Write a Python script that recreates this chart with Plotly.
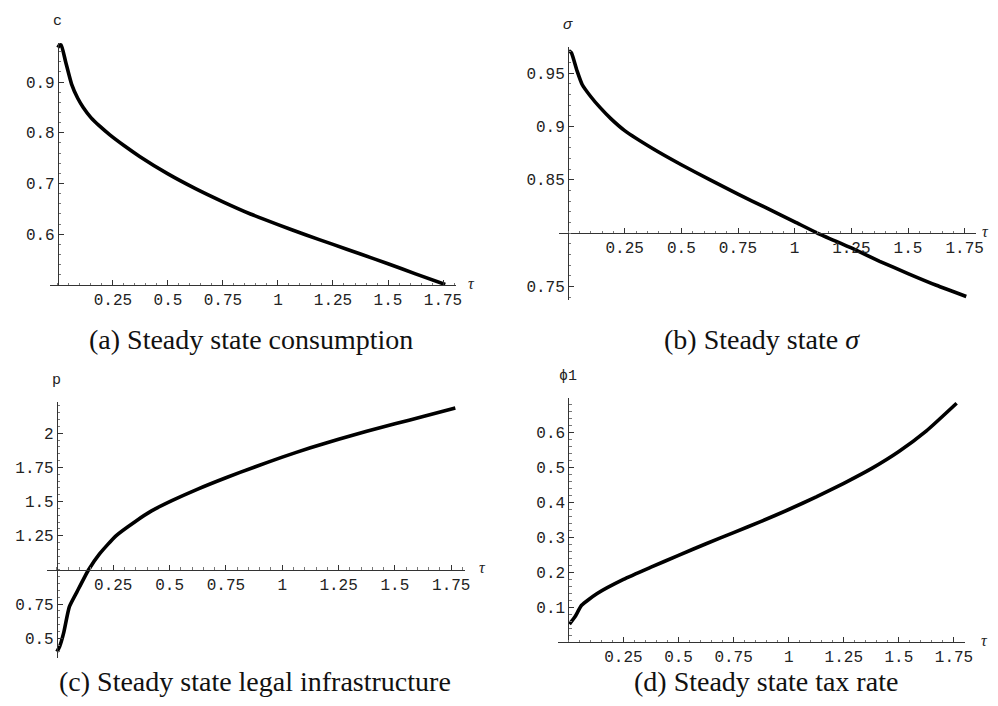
import plotly.graph_objects as go

# ---------------- data ----------------
tau_c = [0.0, 0.006, 0.015, 0.035, 0.062, 0.09, 0.115, 0.15, 0.19, 0.236, 0.3, 0.373, 0.5, 0.625, 0.75, 0.875, 1.0, 1.125, 1.25, 1.375, 1.5, 1.625, 1.76]
c_vals = [0.968, 0.972, 0.973, 0.94, 0.896, 0.868, 0.85, 0.83, 0.813, 0.796, 0.775, 0.753, 0.719, 0.69, 0.664, 0.64, 0.619, 0.599, 0.58, 0.561, 0.542, 0.522, 0.501]

tau_s = [0.004, 0.015, 0.04, 0.063, 0.1, 0.14, 0.19, 0.25, 0.375, 0.5, 0.625, 0.75, 0.875, 1.0, 1.1, 1.25, 1.375, 1.5, 1.625, 1.757]
sigma_vals = [0.971, 0.969, 0.952, 0.939, 0.928, 0.918, 0.907, 0.896, 0.879, 0.864, 0.85, 0.8365, 0.8235, 0.8105, 0.8, 0.786, 0.7735, 0.762, 0.751, 0.7405]

tau_p = [0.0, 0.012, 0.03, 0.055, 0.089, 0.14, 0.19, 0.262, 0.35, 0.42, 0.51, 0.625, 0.75, 0.875, 1.0, 1.125, 1.25, 1.375, 1.5, 1.625, 1.768]
p_vals = [0.402, 0.44, 0.54, 0.73, 0.84, 1.0, 1.119, 1.25, 1.357, 1.432, 1.507, 1.592, 1.675, 1.752, 1.826, 1.894, 1.956, 2.015, 2.07, 2.122, 2.185]

tau_phi = [0.005, 0.03, 0.06, 0.129, 0.25, 0.375, 0.5, 0.625, 0.75, 0.875, 1.0, 1.125, 1.25, 1.375, 1.5, 1.625, 1.762]
phi_vals = [0.051, 0.072, 0.105, 0.138, 0.179, 0.214, 0.248, 0.281, 0.313, 0.345, 0.379, 0.415, 0.454, 0.496, 0.545, 0.604, 0.683]

x_ticks = [0.25, 0.5, 0.75, 1, 1.25, 1.5, 1.75]
x_ticktext = ["0.25", "0.5", "0.75", "1", "1.25", "1.5", "1.75"]
c_ticks = [0.6, 0.7, 0.8, 0.9]
c_ticktext = ["0.6", "0.7", "0.8", "0.9"]
s_ticks = [0.75, 0.85, 0.9, 0.95]
s_ticktext = ["0.75", "0.85", "0.9", "0.95"]
p_ticks = [0.5, 0.75, 1.25, 1.5, 1.75, 2]
p_ticktext = ["0.5", "0.75", "1.25", "1.5", "1.75", "2"]
phi_ticks = [0.1, 0.2, 0.3, 0.4, 0.5, 0.6]
phi_ticktext = ["0.1", "0.2", "0.3", "0.4", "0.5", "0.6"]

y_labels = ["c", "<i>σ</i>", "p", "ϕ1"]
captions = ["(a) Steady state consumption", "(b) Steady state <i>σ</i>",
            "(c) Steady state legal infrastructure", "(d) Steady state tax rate"]

# ---------------- layout ----------------
# the page body has an 8px margin; the figure is sized to fit the 998x706 window
OX, OY = 8, 8
W, H = 982, 690


def fx(px):
    return (px - OX) / W


def fy(py):
    return 1 - (py - OY) / H


panels = [
    dict(x=tau_c, y=c_vals, box=(50, 456, 43, 285), xr=[-0.036, 1.809], yr=[0.5, 0.977], cross=0.5,
         yt=c_ticks, ytt=c_ticktext, ydminor=0.02, cap=(251, 356), tshift=10),
    dict(x=tau_s, y=sigma_vals, box=(559, 976, 47, 300), xr=[-0.0397, 1.80], yr=[0.7372, 0.9744], cross=0.8,
         yt=s_ticks, ytt=s_ticktext, ydminor=0.01, cap=(762, 356), tshift=4),
    dict(x=tau_p, y=p_vals, box=(47, 465, 402, 658), xr=[-0.044, 1.811], yr=[0.356, 2.229], cross=1.0,
         yt=p_ticks, ytt=p_ticktext, ydminor=0.05, cap=(255, 698), tshift=12),
    dict(x=tau_phi, y=phi_vals, box=(558, 965, 398, 642), xr=[-0.047, 1.80], yr=[0.0, 0.698], cross=0.0,
         yt=phi_ticks, ytt=phi_ticktext, ydminor=0.02, cap=(766, 698), tshift=14),
]

fig = go.Figure()
layout = dict(width=W, height=H, margin=dict(l=0, r=0, t=0, b=0, autoexpand=False),
              paper_bgcolor="white", plot_bgcolor="white", showlegend=False)
annotations = []
tickfont = dict(family="Liberation Mono", size=16, color="#222")
axcol = "#333"

for i, p in enumerate(panels, start=1):
    sfx = "" if i == 1 else str(i)
    L, R, T, B = p["box"]
    xd = [fx(L), fx(R)]
    yd = [fy(B), fy(T)]
    xr, yr = p["xr"], p["yr"]
    xpos = yd[0] + (p["cross"] - yr[0]) / (yr[1] - yr[0]) * (yd[1] - yd[0])
    ypos = xd[0] + (0 - xr[0]) / (xr[1] - xr[0]) * (xd[1] - xd[0])
    fig.add_trace(go.Scatter(x=p["x"], y=p["y"], mode="lines",
                             line=dict(color="black", width=3.6, shape="spline", smoothing=0.5),
                             xaxis="x" + sfx, yaxis="y" + sfx, hoverinfo="skip"))
    layout["xaxis" + sfx] = dict(domain=xd, range=xr, anchor="free", position=xpos, automargin=False,
                                 showline=True, linecolor=axcol, linewidth=1, showgrid=False, zeroline=False,
                                 tickvals=x_ticks, ticktext=x_ticktext, ticks="inside", ticklen=5,
                                 tickcolor=axcol, tickwidth=1, tickfont=tickfont,
                                 minor=dict(ticks="inside", ticklen=2.5, dtick=0.05, tick0=0, tickcolor="#777",
                                            showgrid=False),
                                 fixedrange=True)
    layout["yaxis" + sfx] = dict(domain=yd, range=yr, anchor="free", position=ypos, automargin=False,
                                 showline=True, linecolor=axcol, linewidth=1, showgrid=False, zeroline=False,
                                 tickvals=p["yt"], ticktext=p["ytt"], ticks="inside", ticklen=5,
                                 tickcolor=axcol, tickwidth=1, tickfont=tickfont,
                                 minor=dict(ticks="inside", ticklen=2.5, dtick=p["ydminor"], tick0=0,
                                            tickcolor="#777", showgrid=False),
                                 fixedrange=True)
    # y-axis label at top of the vertical axis
    annotations.append(dict(x=0, y=yr[1], xref="x" + sfx, yref="y" + sfx, text=y_labels[i - 1],
                            showarrow=False, xanchor="center", yanchor="bottom", yshift=11,
                            font=dict(family="Liberation Mono", size=15, color="#222")))
    # tau label at right end of horizontal axis
    annotations.append(dict(x=xr[1], y=p["cross"], xref="x" + sfx, yref="y" + sfx, text="<i>τ</i>",
                            showarrow=False, xanchor="left", yanchor="middle", xshift=p["tshift"], yshift=2,
                            font=dict(family="Liberation Serif", size=16, color="#222")))
    # caption (anchored by its bottom edge)
    cx, cy = p["cap"]
    annotations.append(dict(x=fx(cx), y=fy(cy), xref="paper", yref="paper", text=captions[i - 1],
                            showarrow=False, xanchor="center", yanchor="bottom", borderpad=0,
                            font=dict(family="Liberation Serif", size=28, color="#111")))

layout["annotations"] = annotations
fig.update_layout(**layout)
fig.write_html("out.html")
